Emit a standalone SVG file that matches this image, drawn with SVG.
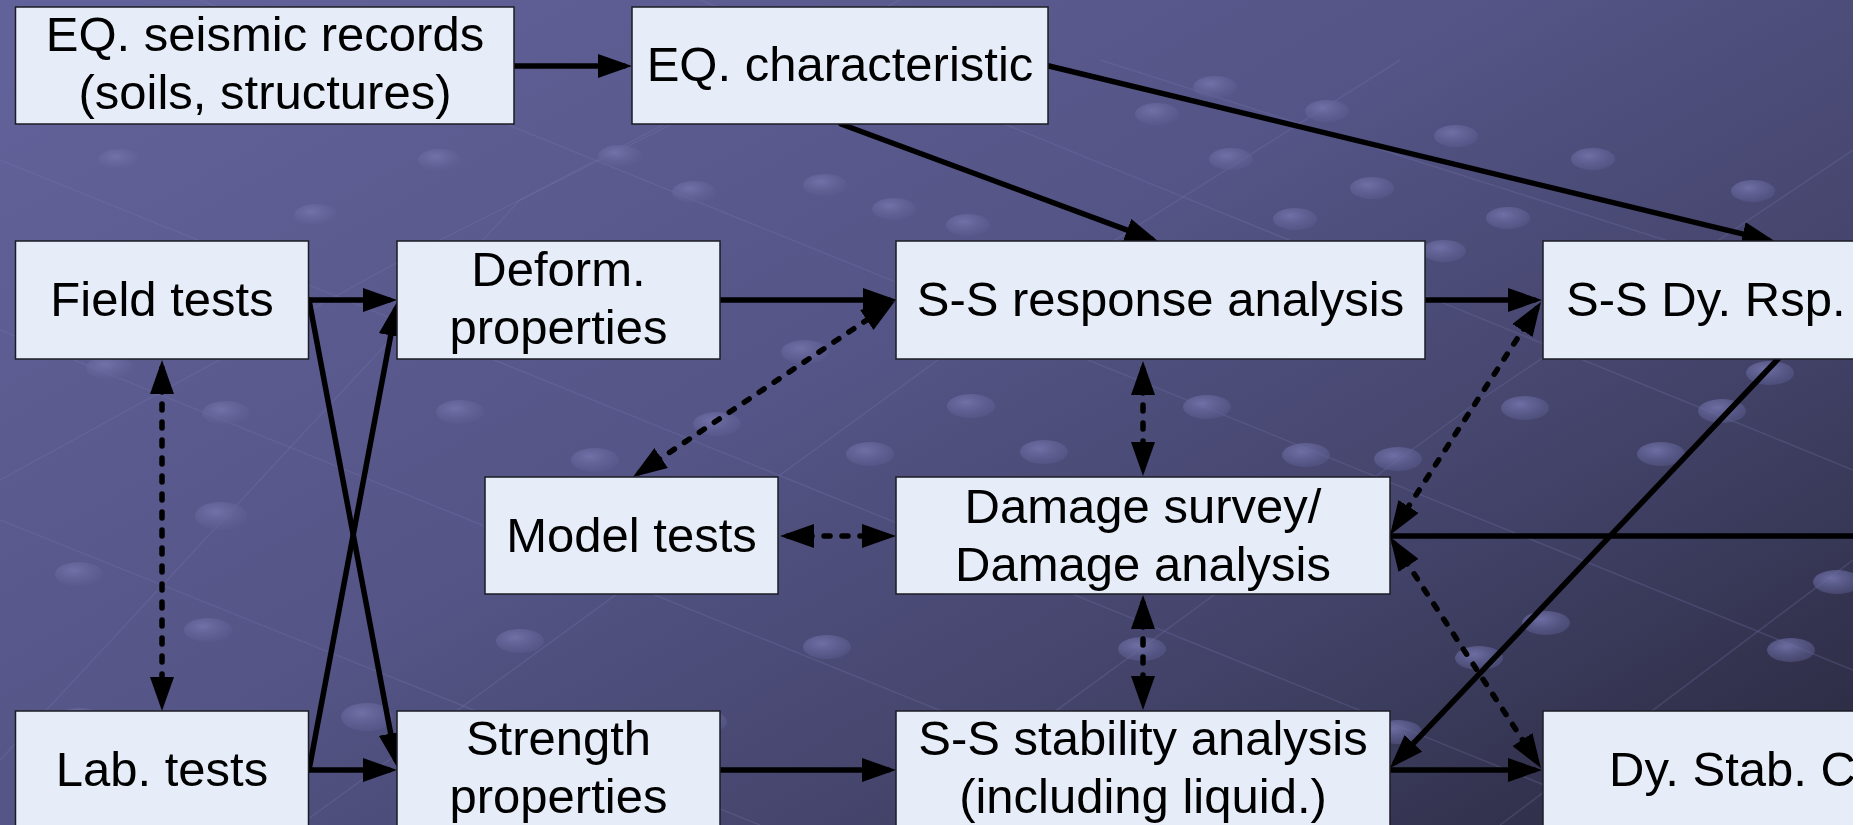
<svg xmlns="http://www.w3.org/2000/svg" width="1874" height="825" viewBox="0 0 1874 825">
  <defs>
    <linearGradient id="bg" x1="0" y1="0.1" x2="1" y2="0.9">
      <stop offset="0" stop-color="#62629a"/>
      <stop offset="0.45" stop-color="#545486"/>
      <stop offset="0.75" stop-color="#424268"/>
      <stop offset="1" stop-color="#2c2c44"/>
    </linearGradient>
    <radialGradient id="dot" cx="0.4" cy="0.35" r="0.7">
      <stop offset="0" stop-color="#7676ae" stop-opacity="0.85"/>
      <stop offset="1" stop-color="#5a5a8e" stop-opacity="0.45"/>
    </radialGradient>
    <clipPath id="slide">
      <rect x="0" y="0" width="1853" height="825"/>
    </clipPath>
    <marker id="ah" viewBox="0 0 34 24" refX="26" refY="12" markerWidth="34" markerHeight="24" markerUnits="userSpaceOnUse" orient="auto-start-reverse">
      <path d="M0,0 L34,12 L0,24 z" fill="#000"/>
    </marker>
    <style>
      .box { fill: #e6edf8; stroke: #1c1c24; stroke-width: 1.5; }
      .lbl { font-family: "Liberation Sans", Arial, sans-serif; font-size: 49px; fill: #000; text-anchor: middle; }
      .lbs { font-family: "Liberation Sans", Arial, sans-serif; font-size: 49px; fill: #000; text-anchor: start; }
      .sol { fill: none; stroke: #000; stroke-width: 5.5; stroke-linecap: round; }
      .dsh { fill: none; stroke: #000; stroke-width: 5.5; stroke-linecap: round; stroke-dasharray: 6 12; }
      .gl { stroke: #7a7ab4; stroke-opacity: 0.25; stroke-width: 1.5; fill: none; }
      .dt { fill: url(#dot); }
    </style>
  </defs>

  <rect x="0" y="0" width="1874" height="825" fill="#ffffff"/>

  <g clip-path="url(#slide)">
    <rect id="background" x="0" y="0" width="1853" height="825" fill="url(#bg)"/>

    <g id="decor">
      <path class="gl" d="M0,330 L1853,1080"/>
      <path class="gl" d="M0,160 L1853,910"/>
      <path class="gl" d="M200,0 L1853,670"/>
      <path class="gl" d="M700,0 L1853,470"/>
      <path class="gl" d="M1100,60 L1853,300"/>
      <path class="gl" d="M0,520 L760,825"/>
      <path class="gl" d="M0,760 L520,200 L900,0"/>
      <path class="gl" d="M300,825 L1020,300 L1400,60"/>
      <path class="gl" d="M900,825 L1480,400 L1853,150"/>
      <path class="gl" d="M1500,825 L1853,560"/>
      <path class="gl" d="M0,480 L420,250 L800,60"/>
      <ellipse class="dt" cx="1215" cy="87" rx="22" ry="11"/>
      <ellipse class="dt" cx="1327" cy="111" rx="22" ry="11"/>
      <ellipse class="dt" cx="1456" cy="136" rx="22" ry="11"/>
      <ellipse class="dt" cx="1593" cy="159" rx="22" ry="11"/>
      <ellipse class="dt" cx="1753" cy="191" rx="22" ry="11"/>
      <ellipse class="dt" cx="1157" cy="114" rx="22" ry="11"/>
      <ellipse class="dt" cx="1231" cy="159" rx="22" ry="11"/>
      <ellipse class="dt" cx="1372" cy="188" rx="22" ry="11"/>
      <ellipse class="dt" cx="1508" cy="218" rx="22" ry="11"/>
      <ellipse class="dt" cx="1295" cy="219" rx="22" ry="11"/>
      <ellipse class="dt" cx="1444" cy="251" rx="22" ry="11"/>
      <ellipse class="dt" cx="825" cy="185" rx="22" ry="11"/>
      <ellipse class="dt" cx="894" cy="209" rx="22" ry="11"/>
      <ellipse class="dt" cx="968" cy="225" rx="22" ry="11"/>
      <ellipse class="dt" cx="694" cy="192" rx="22" ry="11"/>
      <ellipse class="dt" cx="620" cy="156" rx="22" ry="11"/>
      <ellipse class="dt" cx="440" cy="160" rx="22" ry="11"/>
      <ellipse class="dt" cx="316" cy="215" rx="22" ry="11"/>
      <ellipse class="dt" cx="120" cy="160" rx="22" ry="11"/>
      <ellipse class="dt" cx="110" cy="368" rx="24" ry="12"/>
      <ellipse class="dt" cx="226" cy="413" rx="24" ry="12"/>
      <ellipse class="dt" cx="221" cy="516" rx="26" ry="14"/>
      <ellipse class="dt" cx="79" cy="574" rx="24" ry="12"/>
      <ellipse class="dt" cx="208" cy="630" rx="24" ry="12"/>
      <ellipse class="dt" cx="80" cy="720" rx="24" ry="12"/>
      <ellipse class="dt" cx="367" cy="717" rx="26" ry="14"/>
      <ellipse class="dt" cx="460" cy="412" rx="24" ry="12"/>
      <ellipse class="dt" cx="595" cy="460" rx="24" ry="12"/>
      <ellipse class="dt" cx="717" cy="424" rx="24" ry="12"/>
      <ellipse class="dt" cx="805" cy="352" rx="24" ry="12"/>
      <ellipse class="dt" cx="870" cy="454" rx="24" ry="12"/>
      <ellipse class="dt" cx="971" cy="406" rx="24" ry="12"/>
      <ellipse class="dt" cx="1044" cy="452" rx="24" ry="12"/>
      <ellipse class="dt" cx="1207" cy="407" rx="24" ry="12"/>
      <ellipse class="dt" cx="1306" cy="455" rx="24" ry="12"/>
      <ellipse class="dt" cx="1398" cy="459" rx="24" ry="12"/>
      <ellipse class="dt" cx="1525" cy="408" rx="24" ry="12"/>
      <ellipse class="dt" cx="1661" cy="454" rx="24" ry="12"/>
      <ellipse class="dt" cx="1722" cy="411" rx="24" ry="12"/>
      <ellipse class="dt" cx="1770" cy="373" rx="24" ry="12"/>
      <ellipse class="dt" cx="1546" cy="623" rx="24" ry="12"/>
      <ellipse class="dt" cx="1479" cy="658" rx="24" ry="12"/>
      <ellipse class="dt" cx="1837" cy="582" rx="24" ry="12"/>
      <ellipse class="dt" cx="1791" cy="650" rx="24" ry="12"/>
      <ellipse class="dt" cx="1142" cy="649" rx="24" ry="12"/>
      <ellipse class="dt" cx="827" cy="647" rx="24" ry="12"/>
      <ellipse class="dt" cx="520" cy="641" rx="24" ry="12"/>
      <ellipse class="dt" cx="703" cy="722" rx="24" ry="12"/>
      <ellipse class="dt" cx="1398" cy="732" rx="24" ry="12"/>
    </g>

    <g id="connectors">
      <path class="sol" d="M514,66 L624,66" marker-end="url(#ah)"/>
      <path class="sol" d="M841,124 L1151.5,239.2" marker-end="url(#ah)"/>
      <path class="sol" d="M1049,66 L1768.2,240.1" marker-end="url(#ah)"/>
      <path class="sol" d="M309,300 L389,300" marker-end="url(#ah)"/>
      <path class="sol" d="M309,300 L395.5,759.1" marker-end="url(#ah)"/>
      <path class="sol" d="M309,770 L395.5,309.9" marker-end="url(#ah)"/>
      <path class="sol" d="M309,770 L389,770" marker-end="url(#ah)"/>
      <path class="sol" d="M720,300 L889,300" marker-end="url(#ah)"/>
      <path class="sol" d="M1425,300 L1534,300" marker-end="url(#ah)"/>
      <path class="sol" d="M1390,536 L1874,536"/>
      <path class="sol" d="M1778,359 L1395.5,762.2" marker-end="url(#ah)"/>
      <path class="sol" d="M720,770 L888,770" marker-end="url(#ah)"/>
      <path class="sol" d="M1390,770 L1534,770" marker-end="url(#ah)"/>

      <path class="dsh" d="M162,368 L162,703" marker-start="url(#ah)" marker-end="url(#ah)"/>
      <path class="dsh" d="M639.6,472.5 L888.4,305.5" marker-start="url(#ah)" marker-end="url(#ah)"/>
      <path class="dsh" d="M1143,369 L1143,468" marker-start="url(#ah)" marker-end="url(#ah)"/>
      <path class="dsh" d="M788,536 L888,536" marker-start="url(#ah)" marker-end="url(#ah)"/>
      <path class="dsh" d="M1536.6,308.7 L1394.4,528.3" marker-start="url(#ah)" marker-end="url(#ah)"/>
      <path class="dsh" d="M1394.4,543.7 L1536.6,761.3" marker-start="url(#ah)" marker-end="url(#ah)"/>
      <path class="dsh" d="M1143,603 L1143,702" marker-start="url(#ah)" marker-end="url(#ah)"/>
    </g>

    <g id="eq-records">
      <rect class="box" x="15.5" y="7" width="498.5" height="117"/>
      <text class="lbl" x="265" y="51">EQ. seismic records</text>
      <text class="lbl" x="265" y="109">(soils, structures)</text>
    </g>
    <g id="eq-characteristic">
      <rect class="box" x="632" y="7" width="416" height="117"/>
      <text class="lbl" x="840" y="81">EQ. characteristic</text>
    </g>
    <g id="field-tests">
      <rect class="box" x="15.5" y="241" width="293" height="118"/>
      <text class="lbl" x="162" y="316">Field tests</text>
    </g>
    <g id="deform-properties">
      <rect class="box" x="397" y="241" width="323" height="118"/>
      <text class="lbl" x="558.5" y="286">Deform.</text>
      <text class="lbl" x="558.5" y="344">properties</text>
    </g>
    <g id="ss-response">
      <rect class="box" x="896" y="241" width="529" height="118"/>
      <text class="lbl" x="1160.5" y="316">S-S response analysis</text>
    </g>
    <g id="ss-dy-rsp">
      <rect class="box" x="1543" y="241" width="340" height="118"/>
      <text class="lbs" x="1566" y="316">S-S Dy. Rsp.</text>
    </g>
    <g id="model-tests">
      <rect class="box" x="485" y="477" width="293" height="117"/>
      <text class="lbl" x="631.5" y="552">Model tests</text>
    </g>
    <g id="damage">
      <rect class="box" x="896" y="477" width="494" height="117"/>
      <text class="lbl" x="1143" y="523">Damage survey/</text>
      <text class="lbl" x="1143" y="581">Damage analysis</text>
    </g>
    <g id="lab-tests">
      <rect class="box" x="15.5" y="711" width="293" height="130"/>
      <text class="lbl" x="162" y="786">Lab. tests</text>
    </g>
    <g id="strength-properties">
      <rect class="box" x="397" y="711" width="323" height="130"/>
      <text class="lbl" x="558.5" y="755">Strength</text>
      <text class="lbl" x="558.5" y="813">properties</text>
    </g>
    <g id="ss-stability">
      <rect class="box" x="896" y="711" width="494" height="130"/>
      <text class="lbl" x="1143" y="755">S-S stability analysis</text>
      <text class="lbl" x="1143" y="813">(including liquid.)</text>
    </g>
    <g id="dy-stab">
      <rect class="box" x="1543" y="711" width="340" height="130"/>
      <text class="lbs" x="1609" y="786">Dy. Stab. C</text>
    </g>
  </g>
</svg>
